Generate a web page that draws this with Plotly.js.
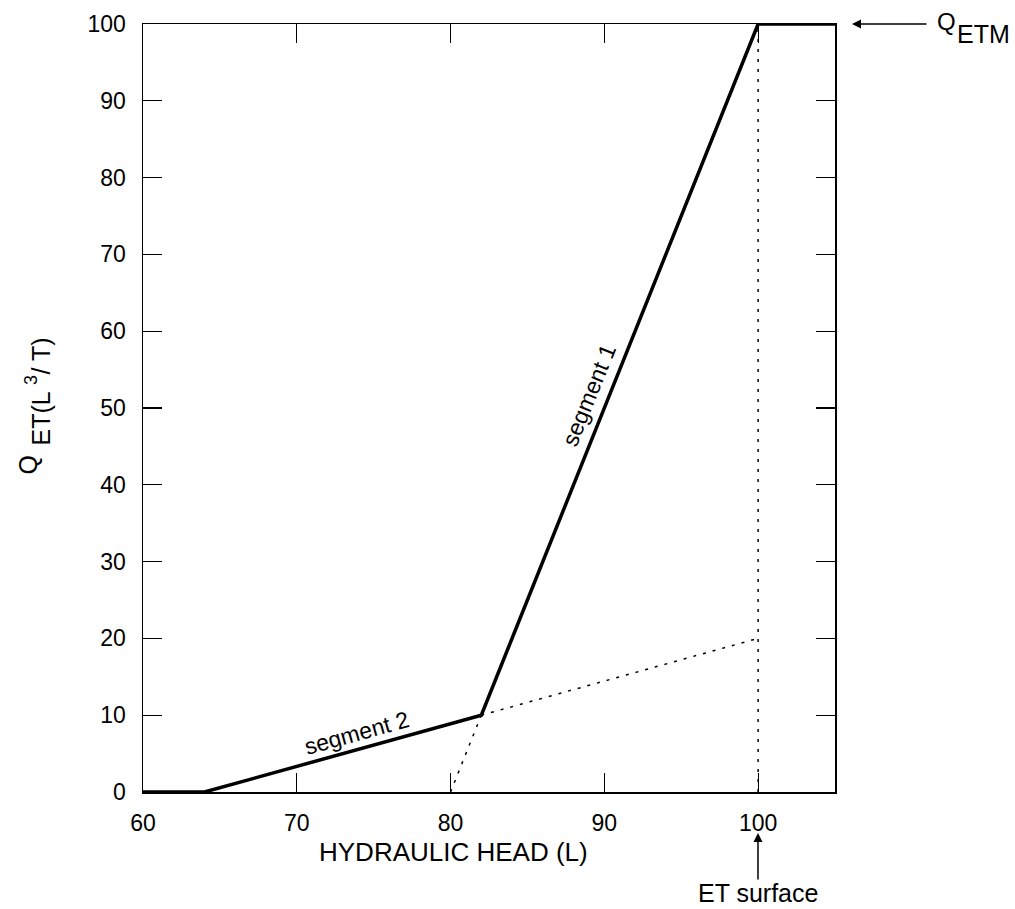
<!DOCTYPE html>
<html><head><meta charset="utf-8">
<script src="https://cdn.plot.ly/plotly-3.0.1.min.js"></script>
<style>body{margin:0;background:#fff}#chart{width:1015px;height:909px}</style>
</head><body><div id="chart"></div>
<script>
// Solid response curve (hydraulic head, Q_ET)
var curveX = [60, 64, 82, 100, 105];
var curveY = [0, 0, 10, 100, 100];
// Dotted extensions
var ext1X = [80, 82];      // extension of segment 1 down to zero
var ext1Y = [0, 10];
var ext2X = [82, 100];     // extension of segment 2 up to ET surface
var ext2Y = [10, 20];
var etX = [100, 100];      // ET surface vertical
var etY = [0, 100];
var xTicks = [60, 70, 80, 90, 100];
var yTicks = [0, 10, 20, 30, 40, 50, 60, 70, 80, 90, 100];

var F = 'Liberation Sans';
var dot = {color: '#000', width: 1.5, dash: '3px,7px'};
var traces = [
  {x: ext1X, y: ext1Y, mode: 'lines', line: dot, hoverinfo: 'skip'},
  {x: ext2X, y: ext2Y, mode: 'lines', line: dot, hoverinfo: 'skip'},
  {x: etX, y: etY, mode: 'lines', line: dot, hoverinfo: 'skip'},
  {x: curveX, y: curveY, mode: 'lines', line: {color: '#000', width: 3.5}, cliponaxis: false}
];
function txt(x, y, t, size, angle) {
  return {x: x, y: y, xref: 'paper', yref: 'paper', text: t, showarrow: false,
    xanchor: 'center', yanchor: 'middle', textangle: angle || 0, font: {family: F, size: size}};
}
var layout = {
  width: 1015, height: 909,
  margin: {l: 143, r: 180, t: 24, b: 117},
  paper_bgcolor: '#fff', plot_bgcolor: '#fff',
  showlegend: false,
  font: {family: F, size: 23, color: '#000'},
  xaxis: {
    range: [60, 105], tickvals: xTicks, ticks: 'inside', ticklen: 19, tickwidth: 1.2,
    tickcolor: '#000', showline: true, linecolor: '#000', linewidth: 1.5, mirror: 'ticks',
    showgrid: false, zeroline: false, tickfont: {family: F, size: 23}, ticklabelstandoff: 10
  },
  yaxis: {
    range: [0, 100], tickvals: yTicks, ticks: 'inside', ticklen: 19, tickwidth: 1.2,
    tickcolor: '#000', showline: true, linecolor: '#000', linewidth: 1.5, mirror: 'ticks',
    showgrid: false, zeroline: false, tickfont: {family: F, size: 23}, ticklabelstandoff: 11
  },
  annotations: [
    txt(0.448, -0.078, 'HYDRAULIC HEAD (L)', 26),
    // y-axis title pieces: Q, subscript "ET(L", superscript 3, "/ T)"
    txt(-0.1655, 0.4258, 'Q', 25, -90),
    txt(-0.1467, 0.487, 'ET(L', 25, -90),
    txt(-0.1618, 0.5365, '3', 18, -90),
    txt(-0.1467, 0.5677, '/ T)', 25, -90),
    {x: 1.0246, y: 1.0, xref: 'paper', yref: 'paper', text: '', showarrow: true, ax: 76, ay: 0,
     arrowhead: 2, arrowsize: 1.2, arrowwidth: 1.5, arrowcolor: '#000'},
    {x: 1.1445, y: 1.0033, xref: 'paper', yref: 'paper', text: 'Q', showarrow: false,
     xanchor: 'left', yanchor: 'middle', font: {family: F, size: 24}},
    {x: 1.1734, y: 0.987, xref: 'paper', yref: 'paper', text: 'ETM', showarrow: false,
     xanchor: 'left', yanchor: 'middle', font: {family: F, size: 25}},
    {x: 0.8887, y: -0.0534, xref: 'paper', yref: 'paper', text: '', showarrow: true, ax: 0, ay: 48,
     arrowhead: 2, arrowsize: 1.2, arrowwidth: 1.5, arrowcolor: '#000'},
    txt(0.8887, -0.1315, 'ET surface', 25),
    {x: 89.0, y: 51.7, xref: 'x', yref: 'y', text: 'segment 1', showarrow: false,
     textangle: -68, font: {family: F, size: 23}},
    {x: 73.9, y: 7.7, xref: 'x', yref: 'y', text: 'segment 2', showarrow: false,
     textangle: -15.5, font: {family: F, size: 23}}
  ]
};
Plotly.newPlot('chart', traces, layout, {displayModeBar: false, staticPlot: true});
</script></body></html>
